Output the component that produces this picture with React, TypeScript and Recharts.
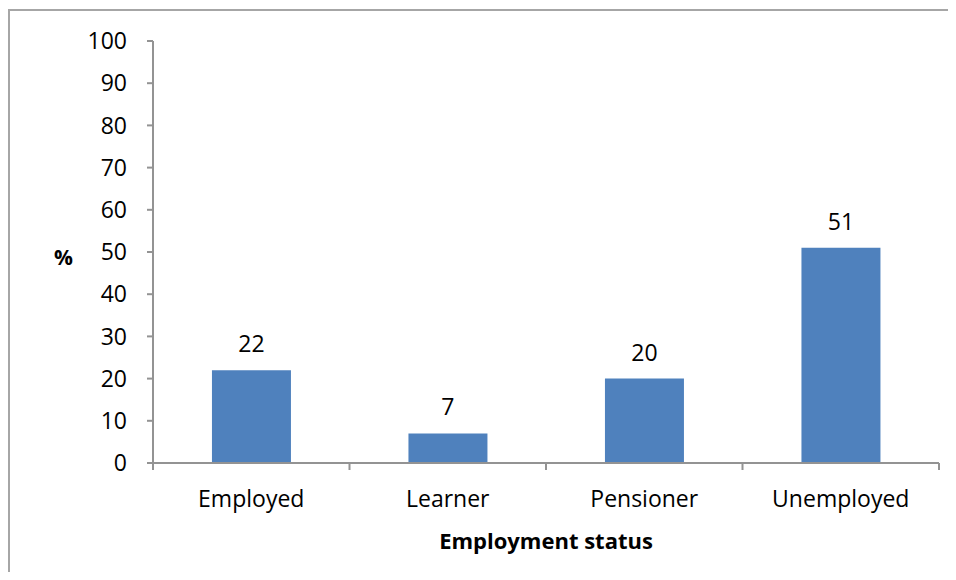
import React from 'react';
import { BarChart, Bar, XAxis, YAxis, LabelList, Label } from 'recharts';

const categories = ['Employed', 'Learner', 'Pensioner', 'Unemployed'];
const percentValues = [22, 7, 20, 51];
const yTicks = [0, 10, 20, 30, 40, 50, 60, 70, 80, 90, 100];

const data = categories.map((c, i) => ({ status: c, value: percentValues[i] }));

const FONT = '"Open Sans", sans-serif';
const AXIS = '#939393';

const CatTick = (props: any) => {
  const { x, y, payload, index, visibleTicksCount } = props;
  const off = payload && typeof payload.offset === 'number' ? payload.offset : 0;
  const isLast = index === (visibleTicksCount ?? categories.length) - 1;
  return (
    <g>
      <line x1={x - off} x2={x - off} y1={y} y2={y + 7} stroke={AXIS} strokeWidth={2} />
      {isLast && <line x1={x + off} x2={x + off} y1={y} y2={y + 7} stroke={AXIS} strokeWidth={2} />}
      <text x={x} y={y + 36} dy="0.35em" textAnchor="middle" fontFamily={FONT} fontSize={23} fill="#000">
        {payload.value}
      </text>
    </g>
  );
};

export default function App() {
  return (
    <div style={{ position: 'relative', width: 940, height: 564, background: '#fff' }}>
      <div
        style={{
          position: 'absolute',
          left: 0,
          top: 1,
          right: 0,
          bottom: 0,
          borderTop: '2px solid #a6a6a6',
          borderLeft: '2px solid #a6a6a6',
        }}
      />
      <div style={{ position: 'absolute', left: 0, top: 0 }}>
        <BarChart
          width={940}
          height={564}
          data={data}
          margin={{ top: 33, right: 9, bottom: 0, left: 0 }}
          barCategoryGap="30%"
        >
          <XAxis
            dataKey="status"
            height={109}
            stroke={AXIS}
            strokeWidth={2}
            tickLine={false}
            tickSize={0}
            tickMargin={0}
            interval={0}
            tick={<CatTick />}
          >
            <Label
              value="Employment status"
              position="insideBottom"
              offset={23}
              style={{ fontFamily: FONT, fontSize: 22, fontWeight: 700, fill: '#000' }}
            />
          </XAxis>
          <YAxis
            width={145}
            domain={[0, 100]}
            ticks={yTicks}
            interval={0}
            stroke={AXIS}
            strokeWidth={2}
            tickSize={6}
            tickMargin={20}
            tick={{ fontFamily: FONT, fontSize: 23, fill: '#000' }}
          >
            <Label
              value="%"
              position="insideLeft"
              offset={46}
              dy={6}
              style={{ fontFamily: FONT, fontSize: 21, fontWeight: 700, fill: '#000', textAnchor: 'start' }}
            />
          </YAxis>
          <Bar dataKey="value" fill="#4f81bd" isAnimationActive={false}>
            <LabelList
              dataKey="value"
              position="top"
              offset={18}
              style={{ fontFamily: FONT, fontSize: 23, fill: '#000' }}
            />
          </Bar>
        </BarChart>
      </div>
    </div>
  );
}
